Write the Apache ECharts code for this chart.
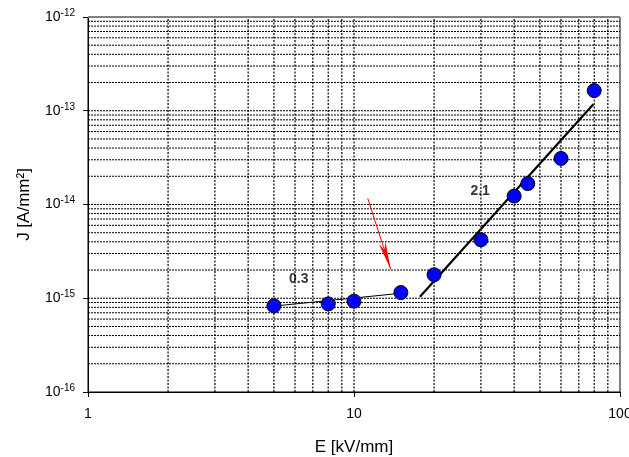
<!DOCTYPE html>
<html>
<head>
<meta charset="utf-8">
<script src="https://cdn.jsdelivr.net/npm/echarts@6/dist/echarts.min.js"></script>
<style>html,body{margin:0;padding:0;background:#fff}#c{width:629px;height:457px}</style>
</head>
<body>
<div id="c"></div>
<script>
// Measured data
var fieldE = [5, 8, 10, 15, 20, 30, 40, 45, 60, 80];
var currentJ = [8.3e-16, 8.7e-16, 9.3e-16, 1.15e-15, 1.78e-15, 4.2e-15, 1.23e-14, 1.67e-14, 3.1e-14, 1.64e-13];
// Fit lines (endpoints)
var lowFitE = [5, 15];
var lowFitJ = [8.25e-16, 1.13e-15];
var highFitE = [17.7, 79.4];
var highFitJ = [1.04e-15, 1.17e-13];
// Slope annotations
var noteText = ['0.3', '2.1'];
var noteE = [6.2, 29.8];
var noteJ = [1.6e-15, 1.4e-14];
// Red arrow (start, end)
var arrowE = [11.26, 13.74];
var arrowJ = [1.164e-14, 2.04e-15];
// Axis ranges / gridline multipliers
var xRange = [1, 100];
var yRange = [1e-16, 1e-12];
var xDecades = [1, 10];
var yDecades = [1e-16, 1e-15, 1e-14, 1e-13];
var minorMult = [2, 3, 4, 5, 6, 7, 8, 9];

var FONT = 'Liberation Sans';

function zip(a, b) { return a.map(function (v, i) { return [v, b[i]]; }); }

var gridSeries = [];
function vLine(x) {
  gridSeries.push({
    type: 'line', silent: true, z: 1, symbol: 'none', animation: false,
    data: [[x, yRange[0]], [x, yRange[1]]],
    lineStyle: { color: '#000', width: 1.2, type: [2, 1.5] }
  });
}
function hLine(y, style) {
  gridSeries.push({
    type: 'line', silent: true, z: 1, symbol: 'none', animation: false,
    data: [[xRange[0], y], [xRange[1], y]],
    lineStyle: style || { color: '#000', width: 1, type: [2, 1] }
  });
}
xDecades.forEach(function (d, i) {
  if (i > 0) vLine(d);
  minorMult.forEach(function (m) { vLine(d * m); });
});
yDecades.forEach(function (d, i) {
  if (i > 0) hLine(d);
  minorMult.forEach(function (m) { hLine(d * m); });
});
hLine(yRange[1], { color: '#808080', width: 2, type: 'solid' });

var chart = echarts.init(document.getElementById('c'), null, { renderer: 'canvas' });
chart.setOption({
  animation: false,
  backgroundColor: '#fff',
  textStyle: { fontFamily: FONT },
  grid: {
    left: 88, top: 17, right: 9, bottom: 65, containLabel: false, outerBoundsMode: 'none',
    show: true, borderColor: '#000', borderWidth: 1, backgroundColor: 'transparent'
  },
  xAxis: {
    type: 'log', logBase: 10, min: xRange[0], max: xRange[1],
    axisLine: { show: true, lineStyle: { color: '#000', width: 1 } },
    axisTick: { show: true, inside: false, length: 5, lineStyle: { color: '#000' } },
    axisLabel: { color: '#000', fontSize: 14, fontFamily: FONT, margin: 15 },
    splitLine: { show: false },
    name: 'E [kV/mm]', nameLocation: 'middle', nameGap: 47,
    nameTextStyle: { color: '#000', fontSize: 17, fontFamily: FONT }
  },
  yAxis: {
    type: 'log', logBase: 10, min: yRange[0], max: yRange[1],
    axisLine: { show: true, lineStyle: { color: '#000', width: 1 } },
    axisTick: { show: true, inside: false, length: 5, lineStyle: { color: '#000' } },
    axisLabel: {
      color: '#000', margin: 13, fontFamily: FONT,
      formatter: function (v) {
        var e = Math.round(Math.log10(v));
        return '{b|10}{s|' + e + '}';
      },
      rich: {
        b: { fontSize: 14, fontFamily: FONT, color: '#000' },
        s: { fontSize: 10, fontFamily: FONT, color: '#000', padding: [0, 0, 8, 0] }
      }
    },
    splitLine: { show: false },
    name: 'J [A/mm²]', nameLocation: 'middle', nameGap: 55, nameRotate: 90,
    nameTextStyle: { color: '#000', fontSize: 17, fontFamily: FONT }
  },
  series: gridSeries.concat([
    {
      type: 'line', data: zip(lowFitE, lowFitJ), symbol: 'none', z: 3,
      lineStyle: { color: '#000', width: 1 }
    },
    {
      type: 'line', data: zip(highFitE, highFitJ), symbol: 'none', z: 3,
      lineStyle: { color: '#000', width: 2.2 }
    },
    {
      type: 'line', data: [], silent: true, z: 3,
      markLine: {
        silent: true, animation: false, label: { show: false },
        symbol: ['none', 'path://M3,0 L0,28 L3,20 L6,28 Z'], symbolSize: [7, 28],
        symbolOffset: [0, [0, 14]],
        lineStyle: { color: '#ff0000', width: 1, type: 'solid' },
        itemStyle: { color: '#ff0000' },
        emphasis: { disabled: true },
        data: [[{ coord: [arrowE[0], arrowJ[0]] }, { coord: [arrowE[1], arrowJ[1]] }]]
      }
    },
    {
      type: 'scatter', data: zip(fieldE, currentJ), symbol: 'circle', symbolSize: 14, z: 5,
      itemStyle: { color: '#0000ff', borderColor: '#000', borderWidth: 1, opacity: 1 }
    },
    {
      type: 'scatter', z: 6, symbolSize: 0, silent: true,
      data: noteText.map(function (t, i) { return [noteE[i], noteJ[i], t]; }),
      label: {
        show: true, position: 'inside', color: '#000', fontSize: 14, fontWeight: 'bold', fontFamily: FONT,
        formatter: function (p) { return p.value[2]; }
      }
    }
  ])
});
</script>
</body>
</html>
